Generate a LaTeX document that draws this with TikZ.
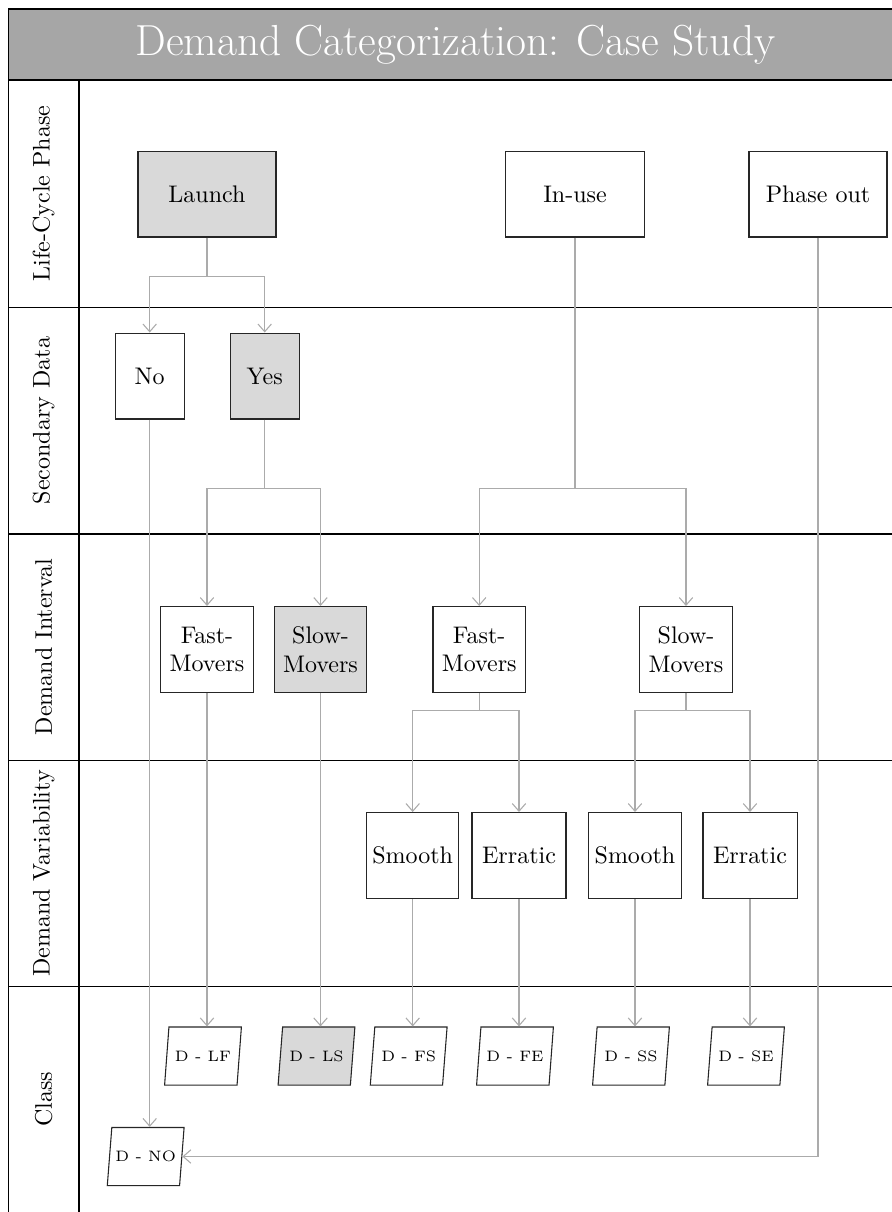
\RequirePackage{fix-cm}
\documentclass[tikz,border=0pt]{standalone}
\usetikzlibrary{shapes.geometric,arrows.meta}
\definecolor{titlegray}{HTML}{A6A6A6}
\definecolor{boxgray}{HTML}{D9D9D9}
\definecolor{linkgray}{HTML}{ABABAB}
\begin{document}
\begin{tikzpicture}[x=0.4167pt,y=-0.4167pt,
  box/.style={draw=black!85, line width=0.45pt, align=center, inner sep=2pt},
  phasebox/.style={box, minimum width=57.5pt, minimum height=35.8pt},
  decbox/.style={box, minimum width=28.8pt, minimum height=35.8pt},
  midbox/.style={box, minimum width=38.5pt, minimum height=35.8pt},
  classbox/.style={draw=black!85, line width=0.45pt, trapezium,
    trapezium left angle=74, trapezium right angle=106,
    trapezium stretches body=true,
    minimum width=32pt, minimum height=24.2pt, inner sep=1pt,
    font=\fontsize{6.3}{7.5}\selectfont},
  shaded/.style={fill=boxgray},
  conn/.style={draw=linkgray, line width=0.45pt,
    -{Straight Barb[length=3.2pt,width=5.6pt]}},
  lanelabel/.style={rotate=90, inner sep=0pt},
  laneline/.style={draw=black, line width=0.5pt}
]
\useasboundingbox (0,0) rectangle (892,1212);
\clip (0,0) rectangle (892,1212);

% title bar and swimlane frame
\fill[titlegray] (8.5,9) rectangle (902,80);
\draw[laneline] (8.5,1230) -- (8.5,9) -- (902,9) -- (902,1230);
\foreach \yy in {80,307.5,534,760.5,986.5}
  \draw[laneline] (8.5,\yy) -- (902,\yy);
\draw[laneline] (79,80) -- (79,1230);

\node[text=white, font=\fontsize{18.1}{22}\selectfont] (title) at (455.3,44.5) {Demand Categorization: Case Study};

% lane labels
\node[lanelabel] (lane1) at (43.7,193.5) {Life-Cycle Phase};
\node[lanelabel] (lane2) at (43.7,420.5) {Secondary Data};
\node[lanelabel] (lane3) at (43.7,647) {Demand Interval};
\node[lanelabel] (lane4) at (43.7,873.5) {Demand Variability};
\node[lanelabel] (lane5) at (43.7,1099.5) {Class};

% life-cycle phase
\node[phasebox, shaded] (launch) at (207,194) {Launch};
\node[phasebox, minimum width=58.3pt] (inuse) at (575,194) {In-use};
\node[phasebox] (phaseout) at (818,194) {Phase out};

% secondary data
\node[decbox] (no) at (149.7,376) {No};
\node[decbox, shaded] (yes) at (264.7,376) {Yes};

% demand interval
\node[midbox] (fastL) at (207,649.5) {Fast-\\Movers};
\node[midbox, shaded] (slowL) at (320.5,649.5) {Slow-\\Movers};
\node[midbox] (fastR) at (479.2,649.5) {Fast-\\Movers};
\node[midbox] (slowR) at (686,649.5) {Slow-\\Movers};

% demand variability
\node[midbox] (smoothA) at (412.7,855.5) {Smooth};
\node[midbox, minimum width=39.2pt] (erraticA) at (519,855.5) {Erratic};
\node[midbox] (smoothB) at (635,855.5) {Smooth};
\node[midbox, minimum width=39.2pt] (erraticB) at (750,855.5) {Erratic};

% classes
\node[classbox] (dlf) at (203,1056) {D - LF};
\node[classbox, shaded] (dls) at (316.5,1056) {D - LS};
\node[classbox] (dfs) at (408.7,1056) {D - FS};
\node[classbox] (dfe) at (515,1056) {D - FE};
\node[classbox] (dss) at (631,1056) {D - SS};
\node[classbox] (dse) at (746,1056) {D - SE};
\node[classbox] (dno) at (145.7,1156.5) {D - NO};

% connectors
\draw[conn] (launch.south) -- ++(0,39) coordinate (launchsplit) -| (no.north);
\draw[conn] (launchsplit) -| (yes.north);

\draw[conn] (yes.south) -- ++(0,69) coordinate (yessplit) -| (fastL.north);
\draw[conn] (yessplit) -| (slowL.north);

\draw[conn] (inuse.south) -- ++(0,251) coordinate (inusesplit) -| (fastR.north);
\draw[conn] (inusesplit) -| (slowR.north);

\draw[conn] (fastR.south) -- ++(0,17.5) coordinate (fastsplit) -| (smoothA.north);
\draw[conn] (fastsplit) -| (erraticA.north);

\draw[conn] (slowR.south) -- ++(0,17.5) coordinate (slowsplit) -| (smoothB.north);
\draw[conn] (slowsplit) -| (erraticB.north);

\draw[conn] (fastL.south) -- (fastL.south |- dlf.north);
\draw[conn] (slowL.south) -- (slowL.south |- dls.north);
\draw[conn] (smoothA.south) -- (smoothA.south |- dfs.north);
\draw[conn] (erraticA.south) -- (erraticA.south |- dfe.north);
\draw[conn] (smoothB.south) -- (smoothB.south |- dss.north);
\draw[conn] (erraticB.south) -- (erraticB.south |- dse.north);

\draw[conn] (no.south) -- (no.south |- dno.north);
\draw[conn] (phaseout.south) |- (dno.east);
\end{tikzpicture}
\end{document}
